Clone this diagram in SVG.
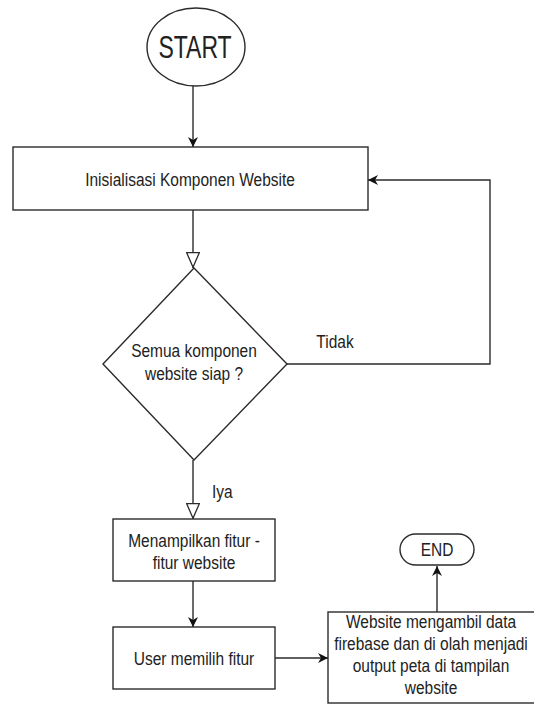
<svg xmlns="http://www.w3.org/2000/svg" width="534" height="704" viewBox="0 0 534 704">
  <style>
    .shape { fill: #ffffff; stroke: #2b2b2b; stroke-width: 1.4; }
    .edge { fill: none; stroke: #2b2b2b; stroke-width: 1.4; }
    .lbl { font-family: "Liberation Sans", Arial, sans-serif; font-size: 15.5px; fill: #222222; text-anchor: middle; }
    .big { font-size: 23px; }
  </style>
  <defs>
    <marker id="arrowFilled" viewBox="0 0 10 10" refX="10" refY="5" markerWidth="10" markerHeight="10" markerUnits="userSpaceOnUse" orient="auto">
      <path d="M0,0 L10,5 L0,10 L3,5 z" fill="#111111"/>
    </marker>
    <marker id="arrowOpen" viewBox="0 0 16 14" refX="16" refY="7" markerWidth="16" markerHeight="14" markerUnits="userSpaceOnUse" orient="auto">
      <path d="M0.7,0.7 L15.3,7 L0.7,13.3 z" fill="#ffffff" stroke="#2b2b2b" stroke-width="1.3"/>
    </marker>
  </defs>

  <!-- connectors -->
  <g id="connectors">
    <line class="edge" x1="193" y1="86" x2="193" y2="147" marker-end="url(#arrowFilled)"/>
    <line class="edge" x1="193" y1="210" x2="193" y2="268" marker-end="url(#arrowOpen)"/>
    <polyline class="edge" points="287,364 490,364 490,180 368,180" marker-end="url(#arrowFilled)"/>
    <text class="lbl" transform="translate(335,348) scale(1,1.22)">Tidak</text>
    <line class="edge" x1="193" y1="460" x2="193" y2="519" marker-end="url(#arrowOpen)"/>
    <text class="lbl" transform="translate(212,498) scale(1,1.22)" style="text-anchor:start">Iya</text>
    <line class="edge" x1="193" y1="581" x2="193" y2="627" marker-end="url(#arrowFilled)"/>
    <line class="edge" x1="275" y1="658" x2="328" y2="658" marker-end="url(#arrowFilled)"/>
    <line class="edge" x1="437" y1="612" x2="437" y2="566" marker-end="url(#arrowFilled)"/>
  </g>

  <!-- start terminator -->
  <g id="start">
    <ellipse class="shape" cx="196" cy="47" rx="49" ry="39"/>
    <text class="lbl big" transform="translate(195,58) scale(1,1.35)">START</text>
  </g>

  <g id="init">
    <rect class="shape" x="13" y="147" width="355" height="63"/>
    <text class="lbl" transform="translate(190,186) scale(1,1.22)">Inisialisasi Komponen Website</text>
  </g>

  <g id="decision">
    <polygon class="shape" points="194,268 287,364 194,460 103,364"/>
    <text class="lbl" transform="translate(194,357) scale(1,1.22)">Semua komponen</text>
    <text class="lbl" transform="translate(194,380) scale(1,1.22)">website siap ?</text>
  </g>

  <g id="show-features">
    <rect class="shape" x="113" y="519" width="162" height="62"/>
    <text class="lbl" transform="translate(194,547) scale(1,1.22)">Menampilkan fitur -</text>
    <text class="lbl" transform="translate(194,569) scale(1,1.22)">fitur website</text>
  </g>

  <g id="choose-feature">
    <rect class="shape" x="113" y="627" width="162" height="62"/>
    <text class="lbl" transform="translate(194,665) scale(1,1.22)">User memilih fitur</text>
  </g>

  <g id="fetch-data">
    <rect class="shape" x="328" y="612" width="212" height="91"/>
    <text class="lbl" transform="translate(431,628) scale(1,1.22)">Website mengambil data</text>
    <text class="lbl" transform="translate(431,650) scale(1,1.22)">firebase dan di olah menjadi</text>
    <text class="lbl" transform="translate(431,672) scale(1,1.22)">output peta di tampilan</text>
    <text class="lbl" transform="translate(431,694) scale(1,1.22)">website</text>
  </g>

  <g id="end">
    <rect class="shape" x="400" y="534" width="74" height="31" rx="15.5" ry="15.5"/>
    <text class="lbl" transform="translate(437,556) scale(1,1.22)">END</text>
  </g>
</svg>
